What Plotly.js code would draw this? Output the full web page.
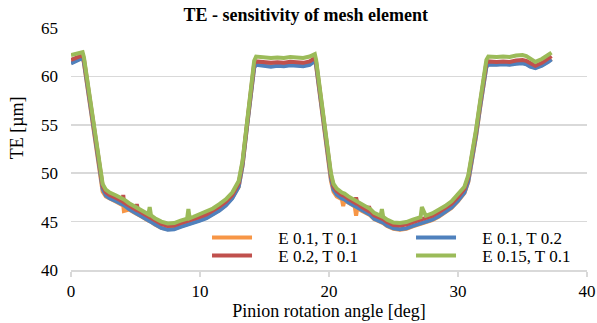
<!DOCTYPE html>
<html>
<head>
<meta charset="utf-8">
<script src="https://cdn.plot.ly/plotly-3.0.1.min.js"></script>
<style>html,body{margin:0;padding:0;background:#fff;}#chart{width:597px;height:323px;}</style>
</head>
<body>
<div id="chart"></div>
<script>
// Pinion rotation angle [deg]
const angle = [
  0, 0.3, 0.6, 0.9, 1.0, 1.3, 1.6, 1.9, 2.2, 2.45,
  2.7, 3.0, 3.5, 4.0, 4.05, 4.1, 4.5, 5.0, 5.1, 5.2,
  5.5, 6.0, 6.1, 6.2, 6.5, 7.0, 7.5, 8.0, 8.5, 9.0,
  9.1, 9.2, 9.5, 10.0, 10.5, 11.0, 11.5, 12.0, 12.5, 13.0,
  13.3, 13.6, 13.9, 14.2, 14.35, 14.7, 15.0, 15.5, 16.0, 16.5,
  17.0, 17.5, 18.0, 18.5, 18.9, 19.0, 19.3, 19.6, 19.9, 20.15,
  20.35, 20.6, 21.0, 21.1, 21.2, 21.5, 22.0, 22.1, 22.2, 22.5,
  23.0, 23.1, 23.2, 23.5, 24.0, 24.1, 24.2, 24.5, 25.0, 25.5,
  26.0, 26.5, 27.0, 27.1, 27.2, 27.5, 28.0, 28.5, 29.0, 29.5,
  30.0, 30.5, 30.8, 31.1, 31.4, 31.7, 32.0, 32.2, 32.35, 32.7,
  33.0, 33.5, 34.0, 34.5, 35.0, 35.3, 35.6, 36.0, 36.5, 37.0,
  37.25
];
// E 0.1, T 0.1
const teE01T01 = [
  61.4, 61.55, 61.75, 61.95, 61.4, 58.6, 55.8, 53.0, 50.1, 48.1,
  47.6, 47.35, 47.05, 46.7, 46.65, 46.1, 46.25, 45.85, 45.8, 45.75,
  45.5, 45.1, 45.05, 45.0, 44.7, 44.35, 44.2, 44.25, 44.5, 44.7,
  44.75, 44.75, 44.9, 45.15, 45.4, 45.75, 46.2, 46.7, 47.45, 48.6,
  50.8, 54.3, 58.0, 61.0, 61.3, 61.25, 61.2, 61.1, 61.2, 61.15,
  61.25, 61.2, 61.15, 61.3, 61.7, 61.1, 57.9, 54.7, 51.4, 49.2,
  48.1, 47.6, 47.3, 46.6, 47.2, 46.95, 46.55, 45.6, 46.45, 46.15,
  45.75, 45.7, 45.65, 45.25, 44.95, 44.9, 44.85, 44.55, 44.25, 44.15,
  44.25, 44.5, 44.7, 44.75, 44.8, 44.9, 45.15, 45.5, 45.9, 46.4,
  47.1, 47.95, 49.1, 51.3, 53.8, 56.6, 59.6, 61.05, 61.25, 61.2,
  61.25, 61.3, 61.25, 61.35, 61.4, 61.3, 61.05, 60.9, 61.15, 61.55,
  61.8
];
// E 0.1, T 0.2
const teE01T02 = [
  61.35, 61.5, 61.7, 61.9, 61.5, 58.8, 56.1, 53.3, 50.5, 48.4,
  47.7, 47.4, 47.1, 46.75, 46.7, 46.7, 46.3, 45.9, 45.85, 45.8,
  45.55, 45.15, 45.1, 45.05, 44.7, 44.35, 44.15, 44.2, 44.45, 44.65,
  44.7, 44.7, 44.85, 45.1, 45.35, 45.7, 46.15, 46.65, 47.4, 48.6,
  50.8, 54.3, 58.0, 60.9, 61.2, 61.15, 61.1, 61.0, 61.1, 61.05,
  61.15, 61.1, 61.05, 61.2, 61.6, 61.2, 58.1, 54.9, 51.7, 49.5,
  48.3, 47.8, 47.4, 47.35, 47.3, 47.0, 46.6, 46.55, 46.5, 46.2,
  45.8, 45.75, 45.7, 45.3, 45.0, 44.95, 44.9, 44.6, 44.3, 44.2,
  44.3, 44.55, 44.75, 44.8, 44.85, 44.95, 45.2, 45.55, 45.95, 46.45,
  47.15, 48.0, 49.2, 51.4, 53.9, 56.7, 59.7, 61.0, 61.2, 61.15,
  61.2, 61.25, 61.2, 61.3, 61.35, 61.25, 61.0, 60.85, 61.1, 61.5,
  61.75
];
// E 0.2, T 0.1
const teE02T01 = [
  61.7, 61.85, 62.0, 62.2, 61.8, 59.1, 56.4, 53.6, 50.8, 48.7,
  48.05, 47.75, 47.45, 47.1, 47.75, 47.0, 46.65, 46.25, 46.8, 46.15,
  45.9, 45.5, 45.45, 45.4, 45.1, 44.75, 44.55, 44.6, 44.85, 45.05,
  45.1, 45.1, 45.25, 45.5, 45.75, 46.1, 46.55, 47.05, 47.75, 48.95,
  51.1, 54.6, 58.3, 61.3, 61.55, 61.5, 61.45, 61.4, 61.45, 61.4,
  61.5, 61.45, 61.4, 61.55, 61.9, 61.5, 58.4, 55.2, 52.0, 49.8,
  48.65, 48.15, 47.75, 47.7, 47.65, 47.35, 46.95, 47.5, 46.85, 46.55,
  46.15, 46.6, 46.05, 45.65, 45.35, 45.3, 45.25, 44.95, 44.65, 44.6,
  44.7, 44.95, 45.15, 45.2, 45.25, 45.35, 45.6, 45.95, 46.35, 46.85,
  47.55, 48.4, 49.6, 51.8, 54.3, 57.1, 60.1, 61.4, 61.55, 61.5,
  61.5, 61.55, 61.5, 61.65, 61.7, 61.6, 61.35, 61.1, 61.4, 61.85,
  62.1
];
// E 0.15, T 0.1
const teE015T01 = [
  62.2, 62.3, 62.4, 62.5, 62.0, 59.3, 56.6, 53.8, 51.0, 48.9,
  48.3, 48.0, 47.7, 47.35, 47.3, 47.3, 46.9, 46.5, 46.45, 46.4,
  46.15, 45.75, 46.5, 45.65, 45.35, 45.0, 44.8, 44.85, 45.1, 45.3,
  46.3, 45.35, 45.5, 45.75, 46.0, 46.35, 46.8, 47.3, 48.0, 49.2,
  51.3, 54.8, 58.5, 61.6, 62.05, 62.0, 62.0, 61.9, 61.95, 61.9,
  62.0, 61.95, 61.9, 62.05, 62.3, 61.7, 58.6, 55.4, 52.2, 50.0,
  48.9, 48.4, 48.0, 47.95, 47.9, 47.6, 47.2, 47.15, 47.1, 46.8,
  46.4, 46.35, 46.3, 45.9, 45.6, 46.3, 45.5, 45.2, 44.9, 44.85,
  44.95, 45.2, 45.4, 45.45, 46.5, 45.6, 45.85, 46.2, 46.6, 47.1,
  47.8, 48.6, 49.8, 52.0, 54.5, 57.3, 60.3, 61.7, 62.05, 62.0,
  62.0, 62.05, 62.0, 62.15, 62.2, 62.1, 61.8, 61.5, 61.8, 62.2,
  62.45
];
const seriesNames = ["E 0.1, T 0.1", "E 0.1, T 0.2", "E 0.2, T 0.1", "E 0.15, T 0.1"];
const xTicks = [0, 10, 20, 30, 40];
const yTicks = [40, 45, 50, 55, 60, 65];

const colors = ["#F79646", "#4F81BD", "#C0504D", "#9BBB59"];
const legendRow = ["legend", "legend", "legend2", "legend2"];
const ys = [teE01T01, teE01T02, teE02T01, teE015T01];
const pad = "\u00a0\u00a0\u00a0\u00a0\u00a0";
const traces = ys.map((y, i) => ({
  x: angle, y: y, type: "scatter", mode: "lines", name: pad + seriesNames[i],
  legend: legendRow[i],
  line: {color: colors[i], width: 4, shape: "linear"}
}));

const serif = "Liberation Serif, Times New Roman, serif";
const legendBase = {
  orientation: "h", x: 0.2636, xanchor: "left", yanchor: "middle",
  entrywidth: 149, entrywidthmode: "pixels", itemwidth: 40,
  bgcolor: "rgba(255,255,255,0)", font: {family: serif, size: 17, color: "#000"},
  traceorder: "normal"
};
const layout = {
  width: 597, height: 323,
  margin: {l: 71, r: 10, t: 28, b: 53, autoexpand: false},
  paper_bgcolor: "#ffffff", plot_bgcolor: "#ffffff",
  font: {family: serif, size: 17, color: "#000"},
  title: {text: "<b>TE - sensitivity of mesh element</b>", font: {family: serif, size: 18, color: "#000"},
          x: 0.512, xref: "container", xanchor: "center", y: 0.955, yref: "container", yanchor: "middle"},
  xaxis: {
    range: [0, 40], tickvals: xTicks, ticktext: xTicks.map(String),
    showgrid: false, zeroline: false,
    showline: true, linecolor: "#d9d9d9", linewidth: 1.5,
    ticks: "outside", ticklen: 5, tickcolor: "#d9d9d9", tickwidth: 1.5,
    tickfont: {family: serif, size: 17, color: "#000"},
    title: {text: "Pinion rotation angle [deg]", font: {family: serif, size: 18, color: "#000"}, standoff: 1}
  },
  yaxis: {
    range: [40, 65], tickvals: yTicks, ticktext: yTicks.map(String),
    showgrid: true, gridcolor: "#d9d9d9", gridwidth: 1.5, zeroline: false, showline: false,
    ticks: "", ticklabelstandoff: 12,
    tickfont: {family: serif, size: 17, color: "#000"}
  },
  annotations: [{
    text: "TE [µm]", textangle: -90, showarrow: false,
    xref: "paper", x: -0.104, xanchor: "center",
    yref: "paper", y: 0.587, yanchor: "middle",
    font: {family: serif, size: 18, color: "#000"}
  }],
  showlegend: true,
  legend: Object.assign({}, legendBase, {y: 0.132}),
  legend2: Object.assign({}, legendBase, {y: 0.058})
};
Plotly.newPlot("chart", traces, layout, {displayModeBar: false, staticPlot: true});
</script>
</body>
</html>
